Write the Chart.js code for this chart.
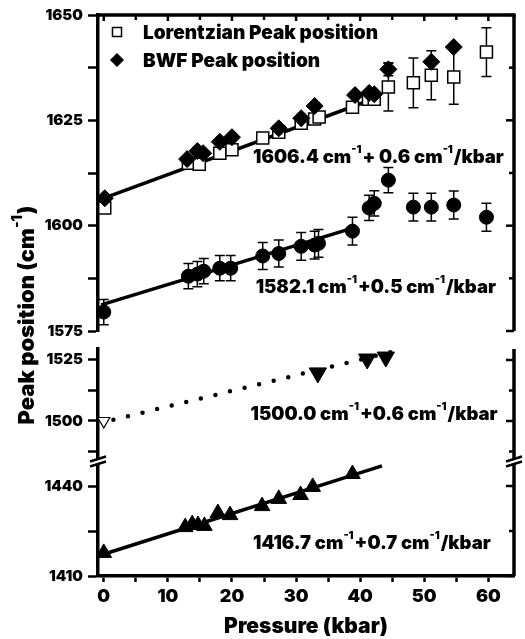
<!DOCTYPE html>
<html>
<head>
<meta charset="utf-8">
<script src="https://cdn.jsdelivr.net/npm/chart.js@4.4.1/dist/chart.umd.min.js"></script>
<style>
  html, body { margin: 0; padding: 0; background: #fff; }
</style>
</head>
<body>
<canvas id="peakChart" width="525" height="639"></canvas>
<script>
const FONT = 'Inter, "DejaVu Sans", sans-serif';
const WEIGHT = 900;

// x axis (pressure, kbar)
const pressureTicks = [0, 5, 10, 15, 20, 25, 30, 35, 40, 45, 50, 55, 60];
const pressureLabels = [0, 10, 20, 30, 40, 50, 60];

// y panels
const topTicks = [1575, 1587.5, 1600, 1612.5, 1625, 1637.5, 1650];
const topLabels = [1575, 1600, 1625, 1650];
const midTicks = [1487.5, 1500, 1512.5, 1525];
const midLabels = [1500, 1525];
const botTicks = [1410, 1425, 1440];
const botLabels = [1410, 1440];

// Lorentzian peak position (open squares)
const lorP   = [0.15, 13.2, 14.9, 18.1, 20.0, 24.8, 27.3, 30.8, 32.9, 33.6, 38.8, 41.3, 42.2, 44.4, 48.3, 51.1, 54.6, 59.7];
const lorPos = [1604.2, 1614.8, 1614.6, 1617.2, 1618.0, 1620.8, 1622.2, 1624.3, 1625.3, 1625.8, 1628.1, 1630.0, 1630.0, 1632.9, 1633.9, 1635.7, 1635.3, 1641.2];
const lorErr = [0, 0, 0, 0, 0, 0, 0, 0, 0, 0, 0, 0, 0, 5.7, 5.9, 5.8, 6.5, 5.8];

// BWF peak position (filled diamonds)
const bwfP   = [0.15, 13.0, 14.6, 15.5, 18.1, 20.0, 27.3, 30.8, 32.9, 39.2, 41.4, 42.2, 44.4, 51.1, 54.6];
const bwfPos = [1606.5, 1615.8, 1617.7, 1617.2, 1619.9, 1621.0, 1623.1, 1625.5, 1628.4, 1631.0, 1631.5, 1631.2, 1637.1, 1638.9, 1642.4];
const bwfErr = [0, 0, 0, 0, 0, 0, 0, 0, 0, 0, 0, 0, 1.5, 0, 0];

// lower band (filled circles)
const cirP   = [0, 13.2, 14.6, 15.6, 18.1, 19.8, 24.8, 27.3, 30.8, 32.9, 33.5, 38.8, 41.4, 42.2, 44.4, 48.3, 51.1, 54.6, 59.7];
const cirPos = [1579.5, 1588.0, 1588.5, 1589.2, 1589.9, 1589.9, 1592.8, 1593.4, 1595.1, 1595.4, 1595.8, 1598.7, 1604.2, 1605.3, 1610.8, 1604.4, 1604.4, 1604.9, 1602.0];
const cirErr = [3.0, 3.0, 3.0, 3.0, 3.0, 3.0, 3.2, 3.2, 3.3, 3.3, 3.3, 3.3, 3.0, 3.0, 3.0, 3.3, 3.3, 3.3, 3.3];

// 1500 band (down triangles), ambient point open
const downP   = [33.4, 41.1, 44.0];
const downPos = [1519.7, 1525.4, 1526.2];
const openP   = [0];
const openPos = [1500.0];

// 1417 band (up triangles)
const upP   = [0, 12.7, 13.8, 14.7, 15.7, 17.8, 19.7, 24.7, 27.3, 30.7, 32.6, 38.8];
const upPos = [1417.7, 1426.3, 1427.3, 1427.0, 1426.7, 1431.0, 1430.3, 1433.3, 1435.7, 1437.0, 1439.7, 1444.0];

// fitted lines (end points)
const fitTopP = [-0.4, 42.5];
const fitTopPos = [1606.3, 1630.3];
const fitMidP = [-0.4, 39.2];
const fitMidPos = [1581.2, 1599.6];
const fitDotP = [1.5, 46.8];
const fitDotPos = [1500.5, 1529.5];
const fitBotP = [-0.4, 43.4];
const fitBotPos = [1417.0, 1446.7];

// text
const legendLabels = ['Lorentzian Peak position', 'BWF Peak position'];
const yTitle = ['Peak position (cm', '-1', ')'];
const fitText = [
    ['1606.4 cm', '-1', '+ 0.6 cm', '-1', '/kbar'],
    ['1582.1 cm', '-1', '+0.5 cm', '-1', '/kbar'],
    ['1500.0 cm', '-1', '+0.6 cm', '-1', '/kbar'],
    ['1416.7 cm', '-1', '+0.7 cm', '-1', '/kbar']
];
const fitTextP = [23.3, 23.7, 22.9, 23.3];
const fitTextPos = [1616.3, 1585.4, 1502.5, 1420.7];
const fitTextAxis = ['yTop', 'yTop', 'yMid', 'yBot'];

const AXIS_W = 98;

function pts(xs, ys) {
    return xs.map((x, i) => ({ x: x, y: ys[i] }));
}

function drawRich(ctx, parts, x, y, size) {
    let cx = x;
    parts.forEach((t, i) => {
        const sup = i % 2 === 1;
        ctx.font = `${WEIGHT} ${sup ? Math.round(size * 0.62) : size}px ${FONT}`;
        ctx.fillText(t, cx, sup ? y - size * 0.42 : y);
        cx += ctx.measureText(t).width + (sup ? 1 : 0);
    });
    return cx - x;
}

function richWidth(ctx, parts, size) {
    let w = 0;
    parts.forEach((t, i) => {
        const sup = i % 2 === 1;
        ctx.font = `${WEIGHT} ${sup ? Math.round(size * 0.62) : size}px ${FONT}`;
        w += ctx.measureText(t).width + (sup ? 1 : 0);
    });
    return w;
}

function panelAxis(min, max, ticks, labels, weight) {
    return {
        type: 'linear',
        position: 'left',
        stack: 'peak',
        stackWeight: weight,
        min: min,
        max: max,
        bounds: 'data',
        afterBuildTicks: s => { s.ticks = ticks.map(v => ({ value: v })); },
        afterFit: s => { s.width = AXIS_W; },
        border: { display: true, color: '#000', width: 3.5 },
        grid: { drawOnChartArea: false, drawTicks: true, tickLength: 10, tickWidth: 2.5, tickColor: '#000' },
        ticks: {
            autoSkip: false,
            padding: 5,
            color: '#000',
            font: { family: FONT, size: 15, weight: WEIGHT },
            callback: v => labels.includes(v) ? String(v) : ''
        }
    };
}

const errorBars = {
    id: 'errorBars',
    beforeDatasetsDraw(chart) {
        const ctx = chart.ctx;
        chart.data.datasets.forEach(ds => {
            if (!ds.err) return;
            const xs = chart.scales.x;
            const ys = chart.scales[ds.yAxisID];
            ctx.save();
            ctx.strokeStyle = '#000';
            ctx.lineWidth = 1.5;
            ds.data.forEach((p, j) => {
                const e = ds.err[j];
                if (!e) return;
                const px = xs.getPixelForValue(p.x);
                const top = ys.getPixelForValue(p.y + e);
                const bot = ys.getPixelForValue(p.y - e);
                ctx.beginPath();
                ctx.moveTo(px, top); ctx.lineTo(px, bot);
                ctx.moveTo(px - 5, top); ctx.lineTo(px + 5, top);
                ctx.moveTo(px - 5, bot); ctx.lineTo(px + 5, bot);
                ctx.stroke();
            });
            ctx.restore();
        });
    },
    afterDatasetsDraw(chart) {
        const ctx = chart.ctx;
        ctx.save();
        ctx.fillStyle = '#000';
        ctx.textBaseline = 'middle';
        ctx.textAlign = 'left';
        fitText.forEach((parts, i) => {
            const x = chart.scales.x.getPixelForValue(fitTextP[i]);
            const y = chart.scales[fitTextAxis[i]].getPixelForValue(fitTextPos[i]);
            drawRich(ctx, parts, x, y, 18.5);
        });
        ctx.restore();
    }
};

const frame = {
    id: 'frame',
    afterDraw(chart) {
        const { ctx, chartArea: a, scales } = chart;
        const seg = (x1, y1, x2, y2) => { ctx.beginPath(); ctx.moveTo(x1, y1); ctx.lineTo(x2, y2); ctx.stroke(); };
        ctx.save();
        ctx.strokeStyle = '#000';

        // top border and right borders
        ctx.lineWidth = 3.5;
        seg(a.left - 1.75, a.top, a.right + 1.75, a.top);
        seg(a.right, scales.yTop.top, a.right, scales.yTop.bottom);
        seg(a.right, scales.yMid.top, a.right, scales.yBot.bottom);

        // inward ticks
        ctx.lineWidth = 2.5;
        pressureTicks.forEach(v => {
            const x = scales.x.getPixelForValue(v);
            seg(x, a.top, x, a.top + (pressureLabels.includes(v) ? 6 : 5));
        });
        [['yTop', topLabels], ['yMid', midLabels], ['yBot', botLabels]].forEach(([id, labels]) => {
            const s = scales[id];
            s.ticks.forEach(t => {
                const y = s.getPixelForValue(t.value);
                seg(a.right - (labels.includes(t.value) ? 8 : 5), y, a.right, y);
            });
        });

        // axis breaks
        const by = scales.yBot.top;
        [a.left, a.right].forEach(ax => {
            ctx.fillStyle = '#fff';
            ctx.fillRect(ax - 3, by - 2, 6, 4);
            ctx.lineWidth = 2.5;
            seg(ax - 8, by - 0.5, ax + 8, by - 5.5);
            seg(ax - 8, by + 4.5, ax + 8, by - 0.5);
        });

        // y title
        ctx.fillStyle = '#000';
        ctx.textBaseline = 'middle';
        ctx.textAlign = 'left';
        ctx.save();
        ctx.translate(27, 315);
        ctx.rotate(-Math.PI / 2);
        const w = richWidth(ctx, yTitle, 22);
        drawRich(ctx, yTitle, -w / 2, 0, 22);
        ctx.restore();

        // legend
        legendLabels.forEach((label, i) => {
            const ds = chart.data.datasets.find(d => d.label === label);
            const y = a.top + 17 + i * 28;
            ctx.fillStyle = ds.backgroundColor;
            ctx.strokeStyle = ds.borderColor;
            ctx.lineWidth = ds.borderWidth;
            Chart.helpers.drawPoint(ctx, {
                pointStyle: ds.pointStyle,
                radius: ds.legendRadius,
                rotation: 0,
                borderWidth: ds.borderWidth
            }, a.left + 19, y);
            ctx.fillStyle = '#000';
            ctx.font = `${WEIGHT} 19px ${FONT}`;
            ctx.fillText(label, a.left + 45, y + 1);
        });
        ctx.restore();
    }
};

function createChart() {
    const ctx = document.getElementById('peakChart');
    const fitLine = (xs, ys, axis, extra) => Object.assign({
        data: pts(xs, ys),
        yAxisID: axis,
        showLine: true,
        pointRadius: 0,
        borderColor: '#000',
        borderWidth: 3.5,
        order: 2
    }, extra || {});

    new Chart(ctx, {
        type: 'scatter',
        data: {
            datasets: [
                {
                    label: 'BWF Peak position',
                    data: pts(bwfP, bwfPos), err: bwfErr, yAxisID: 'yTop',
                    pointStyle: 'rectRot', pointRadius: 8.5, legendRadius: 6.5,
                    backgroundColor: '#000', borderColor: '#000', borderWidth: 1, order: 0
                },
                {
                    label: 'Lorentzian Peak position',
                    data: pts(lorP, lorPos), err: lorErr, yAxisID: 'yTop',
                    pointStyle: 'rect', pointRadius: 8.5, legendRadius: 6.4,
                    backgroundColor: '#fff', borderColor: '#000', borderWidth: 1.5, order: 1
                },
                {
                    label: 'circles',
                    data: pts(cirP, cirPos), err: cirErr, yAxisID: 'yTop',
                    pointStyle: 'circle', pointRadius: 7,
                    backgroundColor: '#000', borderColor: '#000', borderWidth: 1, order: 0
                },
                {
                    label: 'down',
                    data: pts(downP, downPos), yAxisID: 'yMid',
                    pointStyle: 'triangle', rotation: 180, pointRadius: 10,
                    backgroundColor: '#000', borderColor: '#000', borderWidth: 1, order: 0
                },
                {
                    label: 'open',
                    data: pts(openP, openPos), yAxisID: 'yMid',
                    pointStyle: 'triangle', rotation: 180, pointRadius: 7,
                    backgroundColor: '#fff', borderColor: '#000', borderWidth: 1.2, order: 0
                },
                {
                    label: 'up',
                    data: pts(upP, upPos), yAxisID: 'yBot',
                    pointStyle: 'triangle', pointRadius: 9,
                    backgroundColor: '#000', borderColor: '#000', borderWidth: 1, order: 0
                },
                fitLine(fitTopP, fitTopPos, 'yTop'),
                fitLine(fitMidP, fitMidPos, 'yTop'),
                fitLine(fitDotP, fitDotPos, 'yMid', { borderWidth: 4.5, borderDash: [0, 15], borderCapStyle: 'round' }),
                fitLine(fitBotP, fitBotPos, 'yBot')
            ]
        },
        options: {
            responsive: false,
            animation: false,
            layout: { padding: { top: 15, right: 10, left: 0, bottom: 0 } },
            plugins: {
                legend: { display: false },
                tooltip: { enabled: false }
            },
            scales: {
                x: {
                    type: 'linear',
                    min: -0.9,
                    max: 64,
                    afterBuildTicks: s => { s.ticks = pressureTicks.map(v => ({ value: v })); },
                    afterFit: s => { s.height = 63; },
                    border: { display: true, color: '#000', width: 3.5 },
                    grid: { drawOnChartArea: false, drawTicks: true, tickLength: 6, tickWidth: 2.5, tickColor: '#000' },
                    ticks: {
                        autoSkip: false,
                        maxRotation: 0,
                        padding: 4,
                        color: '#000',
                        font: { family: FONT, size: 18, weight: WEIGHT },
                        callback: v => pressureLabels.includes(v) ? String(v) : ''
                    },
                    title: {
                        display: true,
                        text: 'Pressure (kbar)',
                        color: '#000',
                        font: { family: FONT, size: 21, weight: WEIGHT },
                        padding: { top: 0, bottom: 0 }
                    }
                },
                // stacked panels, first listed sits at the bottom
                yBot: panelAxis(1410, 1448, botTicks, botLabels, 114),
                yMid: panelAxis(1483.2, 1529.5, midTicks, midLabels, 113),
                yGap: {
                    type: 'linear', position: 'left', stack: 'peak', stackWeight: 18,
                    min: 0, max: 1,
                    afterFit: s => { s.width = AXIS_W; },
                    border: { display: false },
                    grid: { display: false },
                    ticks: { display: false }
                },
                yTop: panelAxis(1575, 1650, topTicks, topLabels, 316)
            }
        },
        plugins: [errorBars, frame]
    });
}

createChart();
</script>
</body>
</html>
